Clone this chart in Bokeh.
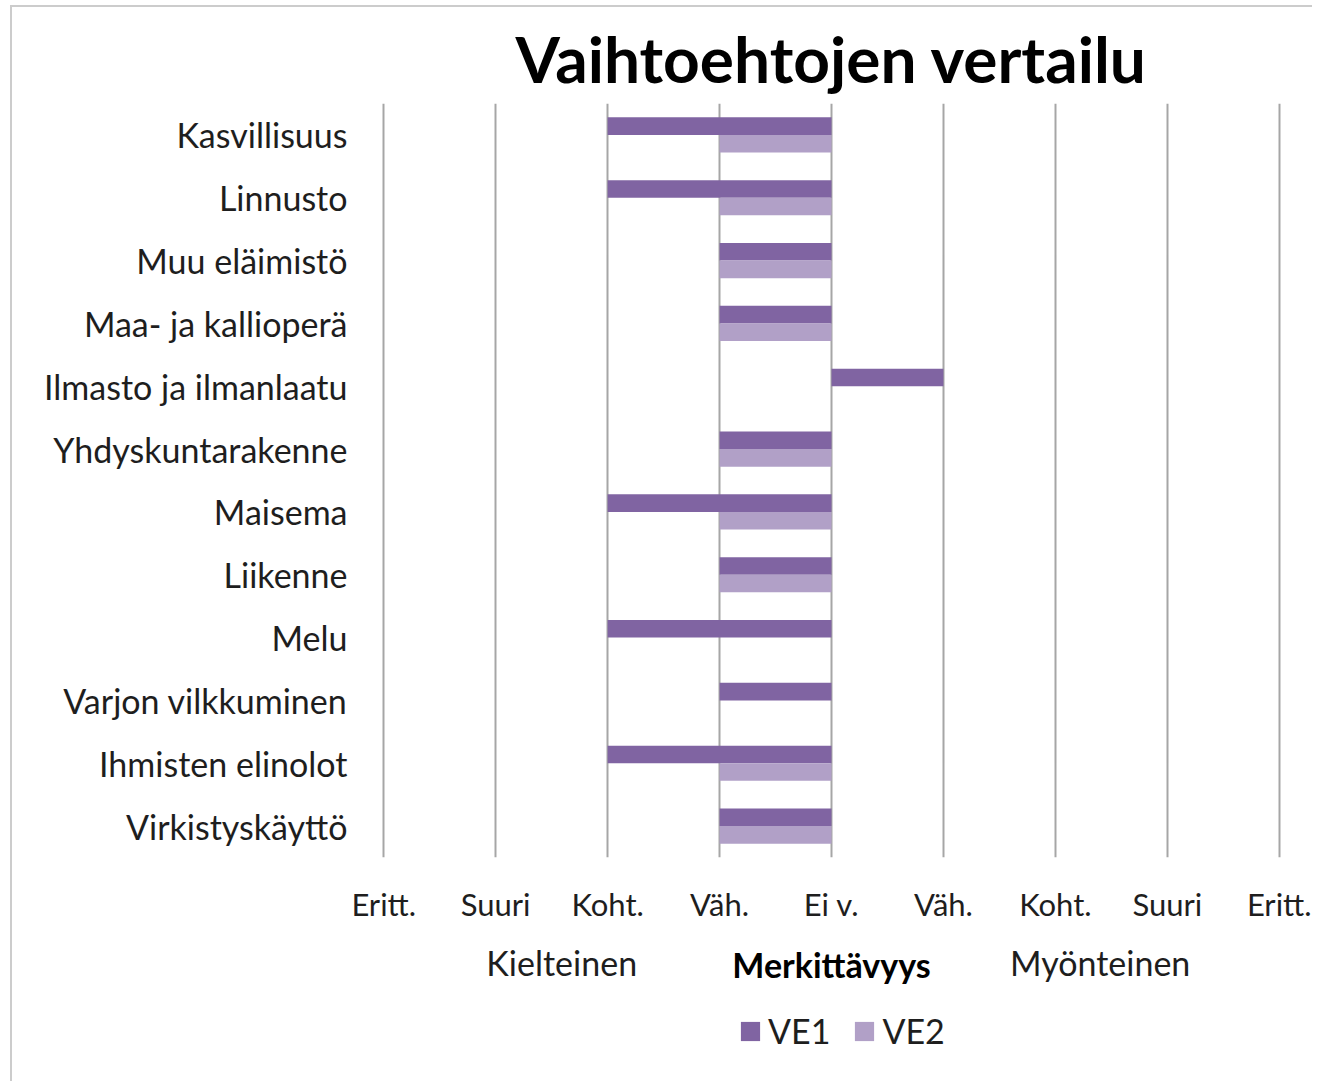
from bokeh.plotting import figure
from bokeh.models import (ColumnDataSource, FixedTicker, Range1d, Legend, LegendItem, LinearAxis)
from bokeh.layouts import column
from bokeh.transform import dodge
from bokeh.embed import file_html
from bokeh.resources import INLINE

# ---- data ----
categories = ["Kasvillisuus", "Linnusto", "Muu eläimistö", "Maa- ja kallioperä",
              "Ilmasto ja ilmanlaatu", "Yhdyskuntarakenne", "Maisema", "Liikenne",
              "Melu", "Varjon vilkkuminen", "Ihmisten elinolot", "Virkistyskäyttö"]
ve1 = [-2, -2, -1, -1, 1, -1, -2, -1, -2, -1, -2, -1]
ve2 = [-1, -1, -1, -1, 0, -1, -1, -1, 0, 0, -1, -1]
tick_values = [-4, -3, -2, -1, 0, 1, 2, 3, 4]
tick_labels = ["Eritt.", "Suuri", "Koht.", "Väh.", "Ei v.", "Väh.", "Koht.", "Suuri", "Eritt."]
side_values = [-2.41, 2.40]
side_labels = ["Kielteinen", "Myönteinen"]
axis_title = "Merkittävyys"
series_names = ["VE1", "VE2"]
colors = ["#8064A2", "#B1A0C7"]

FONT = "Lato"
TXT = "#1e1e1e"

n = len(categories)
ypos = [n - 1 - i for i in range(n)]
src = ColumnDataSource(dict(y=ypos, ve1=ve1, ve2=ve2, zero=[0] * n))

p = figure(width=1300, height=1000, output_backend="svg", toolbar_location=None,
           x_range=Range1d(-4.02, 4.02), y_range=Range1d(-0.5, n - 0.5),
           min_border_left=369, min_border_right=31, min_border_top=96, min_border_bottom=150,
           title="Vaihtoehtojen vertailu")
p.outline_line_color = None
p.background_fill_color = "white"
p.border_fill_color = "white"

p.title.text_font = FONT
p.title.text_font_size = "64px"
p.title.text_font_style = "bold"
p.title.align = "center"
p.title.offset = 7
p.title.text_color = "black"
p.title.standoff = 14

r1 = p.hbar(y=dodge("y", 0.14, range=p.y_range), left="zero", right="ve1", height=0.28,
            source=src, fill_color=colors[0], line_color=None)
r2 = p.hbar(y=dodge("y", -0.14, range=p.y_range), left="zero", right="ve2", height=0.28,
            source=src, fill_color=colors[1], line_color=None)

def clean(ax):
    ax.axis_line_color = None
    ax.major_tick_line_color = None
    ax.minor_tick_line_color = None
    ax.major_label_text_font = FONT
    ax.major_label_text_color = TXT

# x axis
p.xaxis.ticker = FixedTicker(ticks=tick_values)
p.xaxis.major_label_overrides = {v: l for v, l in zip(tick_values, tick_labels)}
p.xaxis.major_label_text_font_size = "31px"
p.xaxis.major_label_standoff = 21
clean(p.xaxis[0])

# second x axis: Kielteinen / Merkittävyys / Myönteinen
ax2 = LinearAxis(ticker=FixedTicker(ticks=side_values),
                 major_label_overrides={v: l for v, l in zip(side_values, side_labels)})
clean(ax2)
ax2.major_label_text_font_size = "34px"
ax2.major_label_standoff = 10
ax2.axis_label = axis_title
ax2.axis_label_text_font = FONT
ax2.axis_label_text_font_size = "34px"
ax2.axis_label_text_font_style = "bold"
ax2.axis_label_text_color = "black"
ax2.axis_label_standoff = -42
p.add_layout(ax2, "below")

# y axis
p.yaxis.ticker = FixedTicker(ticks=ypos)
p.yaxis.major_label_overrides = {y: c for y, c in zip(ypos, categories)}
p.yaxis.major_label_text_font_size = "34px"
p.yaxis.major_label_standoff = 28
clean(p.yaxis[0])

p.xgrid.grid_line_color = "#a6a6a6"
p.xgrid.grid_line_width = 2
p.ygrid.grid_line_color = None

# legend strip below the chart (legend samples: zero-width bars, nothing visible)
q = figure(width=1300, height=74, output_backend="svg", toolbar_location=None,
           x_axis_type=None, y_axis_type=None,
           x_range=Range1d(0, 1), y_range=Range1d(0, 1),
           min_border_left=369, min_border_right=31, min_border_top=0, min_border_bottom=0)
q.outline_line_color = None
q.xgrid.grid_line_color = None
q.ygrid.grid_line_color = None
sample = ColumnDataSource(dict(y=[0.5], left=[0], right=[0]))
lr1 = q.hbar(y="y", left="left", right="right", height=0.01, source=sample,
             fill_color=colors[0], line_color=None)
lr2 = q.hbar(y="y", left="left", right="right", height=0.01, source=sample,
             fill_color=colors[1], line_color=None)
legend = Legend(items=[LegendItem(label=series_names[0], renderers=[lr1]),
                       LegendItem(label=series_names[1], renderers=[lr2])],
                orientation="horizontal", location=(357, 30),
                glyph_width=24, glyph_height=24, label_standoff=6, spacing=22,
                padding=0, margin=0, border_line_color=None, background_fill_alpha=0,
                label_text_font=FONT, label_text_font_size="34px", label_text_color=TXT)
q.add_layout(legend, "center")

layout = column(p, q, spacing=0, margin=(5, 0, 0, 10),
                styles={"border-top": "2px solid #cccccc", "border-left": "2px solid #cccccc"})

open("out.html", "w").write(file_html(layout, INLINE))
